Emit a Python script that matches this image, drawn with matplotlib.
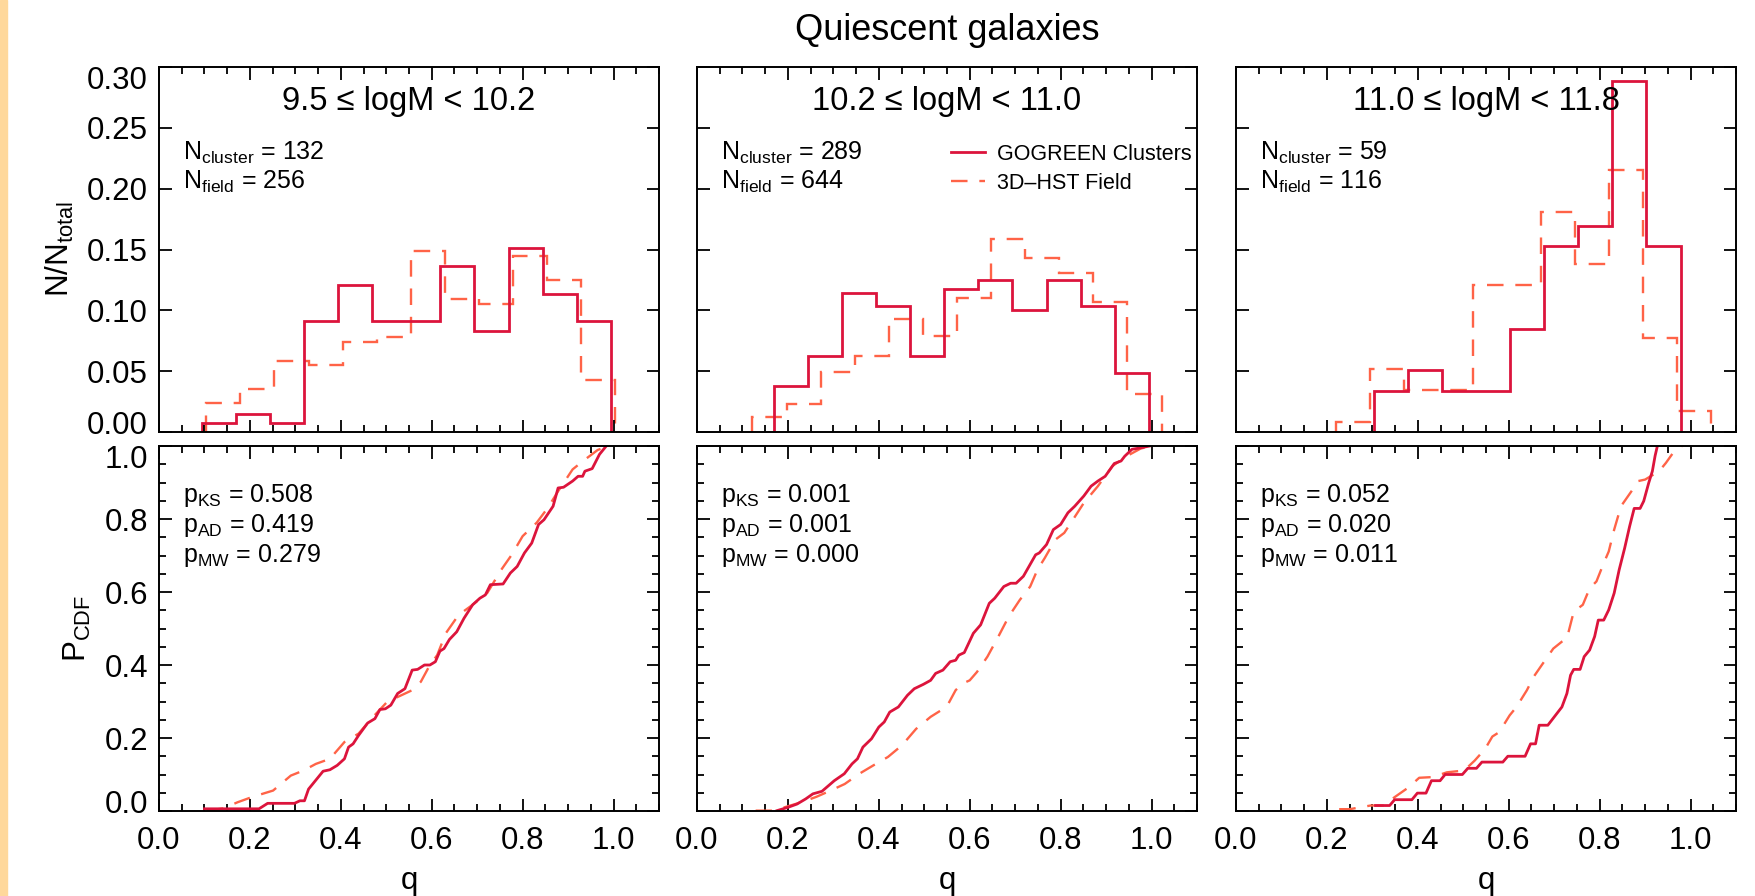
import numpy as np
import matplotlib
matplotlib.use("Agg")
import matplotlib.pyplot as plt
from matplotlib.ticker import MultipleLocator, NullLocator, FormatStrFormatter
from matplotlib.transforms import ScaledTranslation
from matplotlib.patches import Rectangle

plt.rcParams['font.family'] = ['Liberation Sans', 'DejaVu Sans']
plt.rcParams['mathtext.fontset'] = 'custom'
plt.rcParams['mathtext.rm'] = 'Liberation Sans'
plt.rcParams['mathtext.it'] = 'Liberation Sans:italic'

# ---- data ----
mass_bins = ['9.5 \u2264 logM < 10.2', '10.2 \u2264 logM < 11.0', '11.0 \u2264 logM < 11.8']
n_cluster = [132, 289, 59]
n_field = [256, 644, 116]
p_ks = ['0.508', '0.001', '0.052']
p_ad = ['0.419', '0.001', '0.020']
p_mw = ['0.279', '0.000', '0.011']

bin_width = 0.075
# histogram counts (first bin edge, counts per bin)
cl_start = [0.094, 0.169, 0.303]
fd_start = [0.104, 0.122, 0.2205]
cl_counts_1 = [1, 2, 1, 12, 16, 12, 12, 18, 11, 20, 15, 12]
fd_counts_1 = [6, 9, 15, 14, 19, 20, 38, 28, 27, 37, 32, 11]
cl_counts_2 = [11, 18, 33, 30, 18, 34, 36, 29, 36, 30, 14]
fd_counts_2 = [8, 15, 32, 40, 60, 51, 71, 102, 92, 84, 69, 20]
cl_counts_3 = [2, 3, 2, 2, 5, 9, 10, 17, 9]
fd_counts_3 = [1, 6, 4, 4, 14, 14, 21, 16, 25, 9, 2]

# cumulative distributions
cl_q_1 = [0.100, 0.220, 0.239, 0.298, 0.310, 0.320, 0.329, 0.361, 0.376, 0.392, 0.408, 0.417,
          0.427, 0.439, 0.459, 0.475, 0.486, 0.498, 0.510, 0.525, 0.541, 0.557, 0.569, 0.584,
          0.596, 0.608, 0.618, 0.627, 0.639, 0.655, 0.671, 0.690, 0.706, 0.718, 0.729, 0.757,
          0.773, 0.788, 0.804, 0.820, 0.835, 0.847, 0.867, 0.878, 0.890, 0.910, 0.922, 0.932,
          0.937, 0.953, 0.969, 0.984]
cl_p_1 = [0.006, 0.006, 0.021, 0.021, 0.028, 0.028, 0.060, 0.109, 0.113, 0.125, 0.143, 0.175,
          0.184, 0.207, 0.241, 0.253, 0.278, 0.280, 0.290, 0.322, 0.335, 0.386, 0.388, 0.400,
          0.400, 0.409, 0.438, 0.445, 0.470, 0.491, 0.528, 0.565, 0.583, 0.592, 0.620, 0.622,
          0.652, 0.670, 0.707, 0.734, 0.785, 0.798, 0.835, 0.885, 0.887, 0.904, 0.917, 0.917,
          0.931, 0.938, 0.977, 1.000]
fd_q_1 = [0.106, 0.141, 0.173, 0.204, 0.251, 0.290, 0.318, 0.345, 0.376, 0.408, 0.439, 0.471,
          0.502, 0.533, 0.557, 0.576, 0.596, 0.612, 0.631, 0.659, 0.690, 0.722, 0.753, 0.776,
          0.800, 0.831, 0.855, 0.878, 0.910, 0.933, 0.965, 0.988]
fd_p_1 = [0.001, 0.007, 0.024, 0.038, 0.056, 0.097, 0.111, 0.129, 0.143, 0.189, 0.212, 0.258,
          0.299, 0.317, 0.331, 0.354, 0.400, 0.427, 0.487, 0.537, 0.565, 0.597, 0.661, 0.702,
          0.753, 0.790, 0.830, 0.876, 0.936, 0.959, 0.989, 1.000]

cl_q_2 = [0.176, 0.200, 0.220, 0.239, 0.255, 0.275, 0.302, 0.324, 0.341, 0.353, 0.365, 0.384,
          0.400, 0.412, 0.424, 0.443, 0.463, 0.478, 0.498, 0.514, 0.525, 0.541, 0.557, 0.569,
          0.576, 0.588, 0.608, 0.624, 0.643, 0.655, 0.675, 0.690, 0.702, 0.718, 0.745, 0.753,
          0.769, 0.784, 0.800, 0.816, 0.831, 0.851, 0.867, 0.882, 0.898, 0.918, 0.933, 0.941,
          0.957, 0.976, 0.996]
cl_p_2 = [0.001, 0.010, 0.019, 0.033, 0.047, 0.054, 0.083, 0.102, 0.129, 0.143, 0.175, 0.198,
          0.230, 0.244, 0.271, 0.285, 0.317, 0.335, 0.347, 0.358, 0.377, 0.386, 0.409, 0.413,
          0.427, 0.434, 0.487, 0.510, 0.569, 0.583, 0.615, 0.624, 0.624, 0.643, 0.702, 0.707,
          0.730, 0.771, 0.785, 0.817, 0.835, 0.863, 0.890, 0.904, 0.917, 0.952, 0.959, 0.972,
          0.991, 0.995, 1.000]
fd_q_2 = [0.129, 0.165, 0.192, 0.216, 0.239, 0.263, 0.294, 0.325, 0.357, 0.388, 0.420, 0.451,
          0.482, 0.514, 0.537, 0.553, 0.569, 0.584, 0.600, 0.616, 0.639, 0.663, 0.686, 0.710,
          0.733, 0.749, 0.765, 0.788, 0.808, 0.827, 0.851, 0.882, 0.914, 0.945, 0.976, 1.000]
fd_p_2 = [0.001, 0.001, 0.010, 0.019, 0.028, 0.039, 0.056, 0.074, 0.102, 0.125, 0.148, 0.180,
          0.225, 0.258, 0.276, 0.294, 0.331, 0.349, 0.358, 0.381, 0.423, 0.478, 0.533, 0.578,
          0.615, 0.661, 0.693, 0.743, 0.762, 0.798, 0.844, 0.890, 0.945, 0.972, 0.993, 1.000]

cl_q_3 = [0.307, 0.338, 0.349, 0.387, 0.399, 0.418, 0.430, 0.449, 0.460, 0.498, 0.510, 0.529,
          0.541, 0.587, 0.598, 0.636, 0.648, 0.659, 0.667, 0.686, 0.717, 0.728, 0.736, 0.743,
          0.757, 0.766, 0.778, 0.789, 0.797, 0.809, 0.820, 0.832, 0.843, 0.855, 0.866, 0.876,
          0.889, 0.897, 0.908, 0.916, 0.922, 0.927]
cl_p_3 = [0.015, 0.015, 0.031, 0.031, 0.049, 0.049, 0.083, 0.083, 0.100, 0.100, 0.117, 0.117,
          0.134, 0.134, 0.150, 0.150, 0.184, 0.184, 0.235, 0.235, 0.285, 0.322, 0.372, 0.388,
          0.388, 0.423, 0.441, 0.478, 0.523, 0.523, 0.551, 0.597, 0.661, 0.720, 0.780, 0.829,
          0.829, 0.849, 0.899, 0.931, 0.973, 1.000]
fd_q_3 = [0.227, 0.250, 0.296, 0.326, 0.349, 0.380, 0.403, 0.433, 0.464, 0.502, 0.525, 0.548,
          0.564, 0.579, 0.602, 0.617, 0.640, 0.655, 0.675, 0.698, 0.717, 0.728, 0.743, 0.763,
          0.778, 0.793, 0.809, 0.820, 0.832, 0.847, 0.870, 0.885, 0.900, 0.912, 0.931, 0.946,
          0.962, 0.981]
fd_p_3 = [0.005, 0.005, 0.015, 0.015, 0.038, 0.065, 0.091, 0.093, 0.106, 0.111, 0.138, 0.170,
          0.204, 0.216, 0.262, 0.285, 0.331, 0.368, 0.404, 0.445, 0.464, 0.473, 0.546, 0.565,
          0.610, 0.629, 0.679, 0.711, 0.771, 0.835, 0.876, 0.904, 0.908, 0.917, 0.931, 0.954,
          0.982, 1.000]

hist_yticks = [0.0, 0.05, 0.10, 0.15, 0.20, 0.25, 0.30]
cdf_yticks = [0.0, 0.2, 0.4, 0.6, 0.8, 1.0]

cl_counts = [cl_counts_1, cl_counts_2, cl_counts_3]
fd_counts = [fd_counts_1, fd_counts_2, fd_counts_3]
cl_cdf = [(cl_q_1, cl_p_1), (cl_q_2, cl_p_2), (cl_q_3, cl_p_3)]
fd_cdf = [(fd_q_1, fd_p_1), (fd_q_2, fd_p_2), (fd_q_3, fd_p_3)]

cl_color = '#DC143C'
fd_color = '#FF6347'
dash = (7, 5)

fig = plt.figure(figsize=(17.56, 8.96), dpi=100)
fig.add_artist(Rectangle((0, 0), 7 / 1756, 1, transform=fig.transFigure,
                         color='#FFD89B', zorder=0))

W, H = 1756.0, 896.0
lefts = [159, 697, 1236]
pw = 500
top_y = (67, 432)
bot_y = (446, 811)


def shift_edge_labels(ax, dy=0.1):
    # bottom and top labels are nudged inward, as in the original
    ticks = ax.yaxis.get_major_ticks()
    lab0 = ticks[0].label1
    lab1 = ticks[-1].label1
    lab0.set_transform(lab0.get_transform() + ScaledTranslation(0, dy, fig.dpi_scale_trans))
    lab1.set_transform(lab1.get_transform() + ScaledTranslation(0, -dy, fig.dpi_scale_trans))


def style(ax):
    ax.tick_params(which='both', direction='in', top=True, right=True, width=1.3)
    ax.tick_params(which='major', length=9)
    ax.tick_params(which='minor', length=5)
    ax.tick_params(axis='y', pad=8, labelsize=22.5)
    ax.tick_params(axis='x', pad=11, labelsize=22.5)
    for s in ax.spines.values():
        s.set_linewidth(1.4)
    ax.set_xlim(0, 1.1)
    ax.xaxis.set_major_locator(MultipleLocator(0.2))
    ax.xaxis.set_minor_locator(MultipleLocator(0.05))


for i in range(3):
    x0 = lefts[i] / W
    axh = fig.add_axes([x0, 1 - top_y[1] / H, pw / W, (top_y[1] - top_y[0]) / H])
    axc = fig.add_axes([x0, 1 - bot_y[1] / H, pw / W, (bot_y[1] - bot_y[0]) / H])

    # histograms
    cc = np.array(cl_counts[i]) / n_cluster[i]
    fc = np.array(fd_counts[i]) / n_field[i]
    ce = cl_start[i] + bin_width * np.arange(len(cc) + 1)
    fe = fd_start[i] + bin_width * np.arange(len(fc) + 1)
    axh.stairs(fc, fe, color=fd_color, lw=1.7, linestyle=(0, dash),
               label='3D\u2013HST Field')
    axh.stairs(cc, ce, color=cl_color, lw=2.0, label='GOGREEN Clusters')

    style(axh)
    axh.set_ylim(0, 0.30)
    axh.set_yticks(hist_yticks)
    axh.yaxis.set_minor_locator(NullLocator())
    axh.yaxis.set_major_formatter(FormatStrFormatter('%.2f'))
    axh.tick_params(axis='x', labelbottom=False)

    axh.text(0.5, 0.882, mass_bins[i], transform=axh.transAxes, ha='center',
             va='baseline', fontsize=23.5)
    axh.text(0.048, 0.745, r'N$_\mathrm{cluster}$ = %d' % n_cluster[i],
             transform=axh.transAxes, ha='left', va='baseline', fontsize=18)
    axh.text(0.048, 0.666, r'N$_\mathrm{field}$ = %d' % n_field[i],
             transform=axh.transAxes, ha='left', va='baseline', fontsize=18)

    # cumulative distributions
    axc.plot(fd_cdf[i][0], fd_cdf[i][1], color=fd_color, lw=1.7, linestyle=(0, dash))
    axc.plot(cl_cdf[i][0], cl_cdf[i][1], color=cl_color, lw=2.0)
    style(axc)
    axc.set_ylim(0, 1.0)
    axc.set_yticks(cdf_yticks)
    axc.yaxis.set_minor_locator(MultipleLocator(0.05))
    axc.xaxis.set_major_formatter(FormatStrFormatter('%.1f'))
    axc.yaxis.set_major_formatter(FormatStrFormatter('%.1f'))
    axc.set_xlabel('q', fontsize=22.5, labelpad=7)

    for k, (lab, val) in enumerate([('KS', p_ks[i]), ('AD', p_ad[i]), ('MW', p_mw[i])]):
        axc.text(0.048, 0.847 - k * 0.083, r'p$_\mathrm{%s}$ = %s' % (lab, val),
                 transform=axc.transAxes, ha='left', va='baseline', fontsize=18)

    if i == 0:
        axh.set_ylabel(r'N/N$_\mathrm{total}$', fontsize=22.5, labelpad=8)
        axc.set_ylabel(r'P$_\mathrm{CDF}$', fontsize=22.5, labelpad=8)
        shift_edge_labels(axh)
        shift_edge_labels(axc)
    else:
        axh.tick_params(axis='y', labelleft=False)
        axc.tick_params(axis='y', labelleft=False)

    if i == 1:
        handles, labels = axh.get_legend_handles_labels()
        axh.legend(handles[::-1], labels[::-1], loc='upper left',
                   bbox_to_anchor=(0.508, 0.79), frameon=False, fontsize=15.5,
                   handlelength=1.6, handletextpad=0.55, labelspacing=0.37,
                   borderpad=0, borderaxespad=0)

fig.text((697 + 250) / W, 1 - 31 / H, 'Quiescent galaxies', ha='center', va='center',
         fontsize=26)

fig.savefig('out.png', dpi=100)
